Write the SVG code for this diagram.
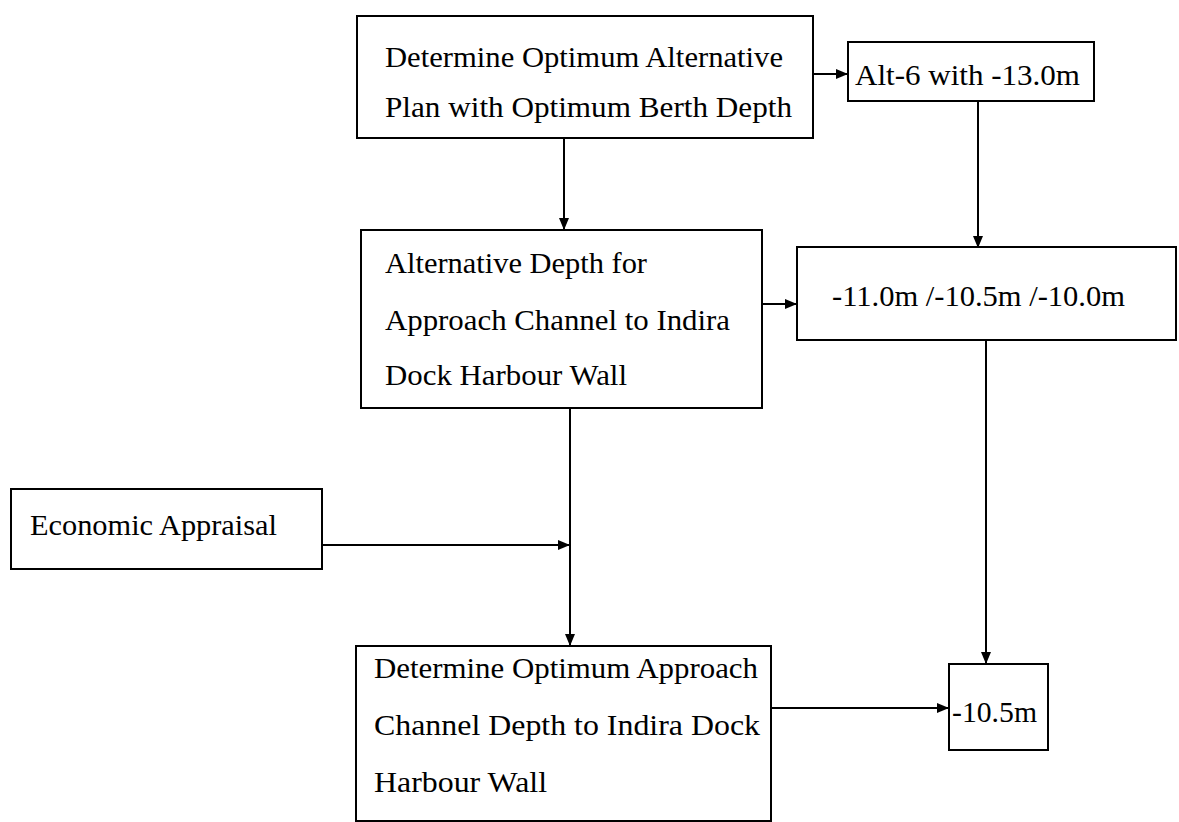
<svg xmlns="http://www.w3.org/2000/svg" width="1179" height="822" viewBox="0 0 1179 822">
<style>
.box{fill:#fff;stroke:#000;stroke-width:2}
.t{font-family:"Liberation Serif","Times New Roman",serif;font-size:29px;fill:#000}
.c{stroke:#000;stroke-width:2;fill:none}
</style>
<defs>
<marker id="ah" markerUnits="userSpaceOnUse" markerWidth="12" markerHeight="10" refX="11" refY="5" orient="auto">
<path d="M0,0 L12,5 L0,10 z" fill="#000"/>
</marker>
</defs>
<rect width="1179" height="822" fill="#fff"/>
<g id="connectors">
<line class="c" x1="813" y1="74" x2="847" y2="74" marker-end="url(#ah)"/>
<line class="c" x1="564" y1="138" x2="564" y2="229" marker-end="url(#ah)"/>
<line class="c" x1="978" y1="101" x2="978" y2="247" marker-end="url(#ah)"/>
<line class="c" x1="762" y1="304" x2="796" y2="304" marker-end="url(#ah)"/>
<line class="c" x1="570" y1="408" x2="570" y2="645" marker-end="url(#ah)"/>
<line class="c" x1="322" y1="545" x2="569" y2="545" marker-end="url(#ah)"/>
<line class="c" x1="986" y1="340" x2="986" y2="663" marker-end="url(#ah)"/>
<line class="c" x1="770" y1="708" x2="948" y2="708" marker-end="url(#ah)"/>
</g>
<g id="n1">
<rect class="box" x="357" y="16" width="456" height="122"/>
<text class="t" x="385" y="67" textLength="398" lengthAdjust="spacingAndGlyphs">Determine Optimum Alternative</text>
<text class="t" x="385" y="117" textLength="407" lengthAdjust="spacingAndGlyphs">Plan with Optimum Berth Depth</text>
</g>
<g id="n2">
<rect class="box" x="848" y="42" width="246" height="59"/>
<text class="t" x="855" y="85" textLength="225" lengthAdjust="spacingAndGlyphs">Alt-6 with -13.0m</text>
</g>
<g id="n3">
<rect class="box" x="361" y="230" width="401" height="178"/>
<text class="t" x="385" y="273" textLength="262" lengthAdjust="spacingAndGlyphs">Alternative Depth for</text>
<text class="t" x="385" y="330" textLength="345" lengthAdjust="spacingAndGlyphs">Approach Channel to Indira</text>
<text class="t" x="385" y="385" textLength="242" lengthAdjust="spacingAndGlyphs">Dock Harbour Wall</text>
</g>
<g id="n4">
<rect class="box" x="797" y="247" width="379" height="93"/>
<text class="t" x="832" y="306" textLength="293" lengthAdjust="spacingAndGlyphs">-11.0m /-10.5m /-10.0m</text>
</g>
<g id="n5">
<rect class="box" x="11" y="489" width="311" height="80"/>
<text class="t" x="30" y="535" textLength="247" lengthAdjust="spacingAndGlyphs">Economic Appraisal</text>
</g>
<g id="n6">
<rect class="box" x="356" y="646" width="415" height="175"/>
<text class="t" x="374" y="678" textLength="384" lengthAdjust="spacingAndGlyphs">Determine Optimum Approach</text>
<text class="t" x="374" y="735" textLength="386" lengthAdjust="spacingAndGlyphs">Channel Depth to Indira Dock</text>
<text class="t" x="374" y="792" textLength="173" lengthAdjust="spacingAndGlyphs">Harbour Wall</text>
</g>
<g id="n7">
<rect class="box" x="949" y="664" width="99" height="86"/>
<text class="t" x="952" y="722" textLength="85" lengthAdjust="spacingAndGlyphs">-10.5m</text>
</g>
</svg>
